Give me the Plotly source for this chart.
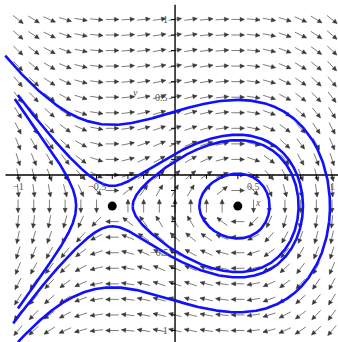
import numpy as np
import plotly.graph_objects as go

# System: x' = A_COEF*(y - Y_EQ), y' = X_EQ^2 - x^2  (saddle at left, centre at right)
A_COEF = 0.88
EQ_X = [-0.4, 0.4]
EQ_Y = [-0.2, -0.2]

# direction-field grid
GRID_X = [round(-1.0 + 0.1 * i, 1) for i in range(21)]
GRID_Y = [round(-1.0 + 0.1 * i, 1) for i in range(21)]

# trajectories: a point on each curve, and where open curves are cut on the left
TRAJ_X = [0.987, 0.815, -0.63, -0.27, 0.155]
TRAJ_Y = [-0.2, -0.2, -0.2, -0.2, -0.2]
TRAJ_CLOSED = [False, False, False, True, True]
TRAJ_CUT_TOP = [-1.08, -1.0, -1.02, None, None]
TRAJ_CUT_BOTTOM = [-1.0, -1.03, -1.0, None, None]

# axis ticks and labels
X_TICKS = [-1, -0.5, 0.5, 1]
X_TICK_TEXT = ["−1", "−0.5", "0.5", "1"]
Y_TICKS = [1, 0.5, -0.5, -1]
Y_TICK_TEXT = ["1", "0.5", "−0.5", "−1"]
MINOR_TICKS = [round(-1.0 + 0.1 * i, 1) for i in range(21)]

X_RANGE = [-1.115, 1.038]
Y_RANGE = [-1.074, 1.125]
W, H = 338, 342
SX = W / (X_RANGE[1] - X_RANGE[0])
SY = H / (Y_RANGE[1] - Y_RANGE[0])


def field(x, y):
    return A_COEF * (y - EQ_Y[0]), EQ_X[1] ** 2 - x ** 2


def rk4(x, y, dt):
    k1 = field(x, y)
    k2 = field(x + dt / 2 * k1[0], y + dt / 2 * k1[1])
    k3 = field(x + dt / 2 * k2[0], y + dt / 2 * k2[1])
    k4 = field(x + dt * k3[0], y + dt * k3[1])
    return (x + dt / 6 * (k1[0] + 2 * k2[0] + 2 * k3[0] + k4[0]),
            y + dt / 6 * (k1[1] + 2 * k2[1] + 2 * k3[1] + k4[1]))


def run_open(x, y, dt, xcut):
    pts = [(x, y)]
    for _ in range(200000):
        x, y = rk4(x, y, dt)
        pts.append((x, y))
        if x < xcut or y < Y_RANGE[0] - 0.02 or y > Y_RANGE[1] + 0.02:
            break
    return pts


def run_closed(x, y, dt):
    cx, cy = EQ_X[1], EQ_Y[1]
    prev = np.arctan2(y - cy, x - cx)
    total = 0.0
    pts = [(x, y)]
    for _ in range(400000):
        x, y = rk4(x, y, dt)
        pts.append((x, y))
        a = np.arctan2(y - cy, x - cx)
        d = a - prev
        if d > np.pi:
            d -= 2 * np.pi
        elif d < -np.pi:
            d += 2 * np.pi
        total += d
        prev = a
        if abs(total) >= 2 * np.pi:
            break
    return pts


fig = go.Figure()

# direction field arrows (equal length on screen)
shaft_x, shaft_y, head_x, head_y = [], [], [], []
L, HL, HW = 13.0, 4.2, 2.1
for gx in GRID_X:
    for gy in GRID_Y:
        u, v = field(gx, gy)
        pu, pv = u * SX, v * SY
        n = np.hypot(pu, pv)
        if n < 1e-9:
            continue
        dxp, dyp = pu / n, pv / n
        tx, ty = gx + (L / 2) * dxp / SX, gy + (L / 2) * dyp / SY
        bx, by = gx - (L / 2) * dxp / SX, gy - (L / 2) * dyp / SY
        shaft_x += [bx, tx, None]
        shaft_y += [by, ty, None]
        hx, hy = tx - HL * dxp / SX, ty - HL * dyp / SY
        nx, ny = -dyp, dxp
        head_x += [tx, hx + HW * nx / SX, hx - HW * nx / SX, tx, None]
        head_y += [ty, hy + HW * ny / SY, hy - HW * ny / SY, ty, None]

fig.add_trace(go.Scatter(x=shaft_x, y=shaft_y, mode="lines",
                         line=dict(color="#6e6e6e", width=0.9), hoverinfo="skip"))
fig.add_trace(go.Scatter(x=head_x, y=head_y, mode="lines", fill="toself",
                         fillcolor="#3a3a3a", line=dict(color="#3a3a3a", width=0.5),
                         hoverinfo="skip"))

# axes through the origin
fig.add_trace(go.Scatter(x=[-1.08, 1.038], y=[0, 0], mode="lines",
                         line=dict(color="black", width=1.4), hoverinfo="skip"))
fig.add_trace(go.Scatter(x=[0, 0], y=[-1.074, 1.095], mode="lines",
                         line=dict(color="black", width=1.4), hoverinfo="skip"))
tx_, ty_ = [], []
for t in MINOR_TICKS:
    if t == 0:
        continue
    tx_ += [t, t, None]
    ty_ += [0, -4 / SY, None]
    tx_ += [0, -4 / SX, None]
    ty_ += [t, t, None]
fig.add_trace(go.Scatter(x=tx_, y=ty_, mode="lines",
                         line=dict(color="black", width=1), hoverinfo="skip"))

# trajectories
for x0, y0, closed, ct, cb in zip(TRAJ_X, TRAJ_Y, TRAJ_CLOSED, TRAJ_CUT_TOP, TRAJ_CUT_BOTTOM):
    if closed:
        pts = run_closed(x0, y0, 0.002)
    else:
        back = run_open(x0, y0, -0.002, ct)
        fwd = run_open(x0, y0, 0.002, cb)
        pts = back[::-1] + fwd[1:]
    xs = [p[0] for p in pts]
    ys = [p[1] for p in pts]
    fig.add_trace(go.Scatter(x=xs, y=ys, mode="lines",
                             line=dict(color="#1010ff", width=2.6), hoverinfo="skip"))

# equilibria
fig.add_trace(go.Scatter(x=EQ_X, y=EQ_Y, mode="markers",
                         marker=dict(color="black", size=9), hoverinfo="skip"))

font = dict(family="Liberation Serif", size=10, color="#555555")
ann = []
for v, s in zip(X_TICKS, X_TICK_TEXT):
    ann.append(dict(x=v, y=0, text=s, showarrow=False, yshift=-12, font=font))
for v, s in zip(Y_TICKS, Y_TICK_TEXT):
    ann.append(dict(x=0, y=v, text=s, showarrow=False, xanchor="right", xshift=-5, font=font))
ann.append(dict(x=0.53, y=-0.18, text="<i>x</i>", showarrow=False, font=font))
ann.append(dict(x=-0.255, y=0.53, text="<i>y</i>", showarrow=False, font=font))

fig.update_layout(
    width=W, height=H, margin=dict(l=0, r=0, t=0, b=0),
    paper_bgcolor="white", plot_bgcolor="white", showlegend=False,
    xaxis=dict(range=X_RANGE, visible=False, fixedrange=True),
    yaxis=dict(range=Y_RANGE, visible=False, fixedrange=True),
    annotations=ann,
)
fig.write_html("out.html")
